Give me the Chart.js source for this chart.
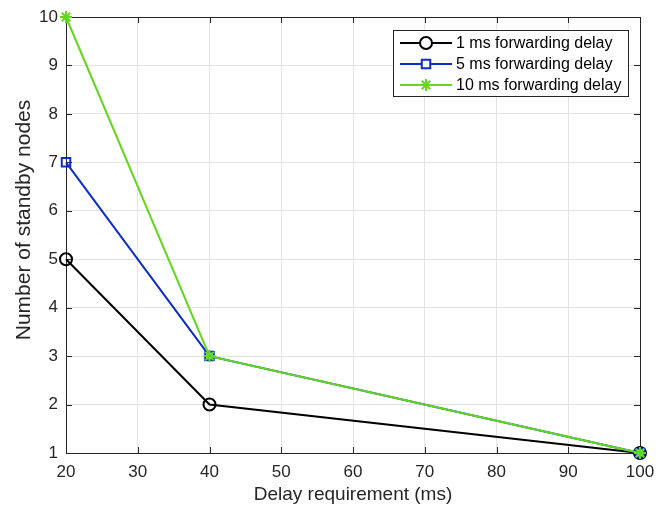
<!DOCTYPE html>
<html>
<head>
<meta charset="utf-8">
<script src="https://cdn.jsdelivr.net/npm/chart.js@4"></script>
<style>
  body { margin: 0; background: #fff; }
  #wrap { width: 656px; height: 508px; }
</style>
</head>
<body>
<div id="wrap"><canvas id="myChart" width="656" height="508"></canvas></div>
<script>
'use strict';

// chart data
let delayReq = [20, 40, 100];
let oneMs = [5, 2, 1];
let fiveMs = [7, 3, 1];
let tenMs = [10, 3, 1];
let seriesNames = ['1 ms forwarding delay', '5 ms forwarding delay', '10 ms forwarding delay'];
let xTicks = [20, 30, 40, 50, 60, 70, 80, 90, 100];
let yTicks = [1, 2, 3, 4, 5, 6, 7, 8, 9, 10];
let yTitle = 'Number of standby nodes';

function toPoints(ys){
  let pts = [];
  for(let i = 0; i < delayReq.length; i++){
    pts.push({x: delayReq[i], y: ys[i]});
  }
  return pts;
}

const axisColor = '#262626';
const fam = 'Liberation Sans, Arial, sans-serif';

// matlab style box, inside ticks, y title and legend
const boxPlugin = {
  id: 'boxPlugin',
  beforeDatasetsDraw(chart){
    let ctx = chart.ctx;
    let a = chart.chartArea;
    let xs = chart.scales.x;
    let ys = chart.scales.y;
    ctx.save();
    ctx.strokeStyle = axisColor;
    ctx.lineWidth = 1;
    ctx.strokeRect(a.left + 0.5, a.top + 0.5, a.right - a.left, a.bottom - a.top);
    ctx.beginPath();
    xTicks.forEach(function(t){
      let px = Math.round(xs.getPixelForValue(t)) + 0.5;
      ctx.moveTo(px, a.bottom); ctx.lineTo(px, a.bottom - 6);
      ctx.moveTo(px, a.top); ctx.lineTo(px, a.top + 6);
    });
    yTicks.forEach(function(t){
      let py = Math.round(ys.getPixelForValue(t)) + 0.5;
      ctx.moveTo(a.left, py); ctx.lineTo(a.left + 6, py);
      ctx.moveTo(a.right, py); ctx.lineTo(a.right - 6, py);
    });
    ctx.stroke();

    // y axis title
    ctx.translate(24, 220);
    ctx.rotate(-Math.PI / 2);
    ctx.font = '21px ' + fam;
    ctx.fillStyle = axisColor;
    ctx.textAlign = 'center';
    ctx.textBaseline = 'middle';
    ctx.fillText(yTitle, 0, 0);
    ctx.restore();
  },
  afterDatasetsDraw(chart){
    let ctx = chart.ctx;
    // legend
    let lx = 393, ly = 30, lw = 235, lh = 66;
    ctx.save();
    ctx.fillStyle = '#fff';
    ctx.fillRect(lx, ly, lw, lh);
    ctx.strokeStyle = axisColor;
    ctx.lineWidth = 1;
    ctx.strokeRect(lx + 0.5, ly + 0.5, lw, lh);
    let rows = [43, 64, 85];
    ctx.font = '16px ' + fam;
    ctx.textBaseline = 'middle';
    chart.data.datasets.forEach(function(ds, i){
      let y = rows[i];
      ctx.strokeStyle = ds.borderColor;
      ctx.lineWidth = 2;
      ctx.beginPath();
      ctx.moveTo(lx + 7, y); ctx.lineTo(lx + 59, y);
      ctx.stroke();
      ctx.fillStyle = '#fff';
      Chart.helpers.drawPoint(ctx, {pointStyle: ds.pointStyle, radius: ds.pointRadius, borderWidth: 2}, lx + 33, y);
      ctx.fillStyle = '#000';
      ctx.fillText(ds.label, lx + 63, y + 1);
    });
    ctx.restore();
  }
};

const ctx = document.getElementById('myChart');

new Chart(ctx, {
  type: 'line',
  data: {
    datasets: [
      {
        label: seriesNames[0],
        data: toPoints(oneMs),
        borderColor: '#000000',
        backgroundColor: 'rgba(0,0,0,0)',
        borderWidth: 2,
        pointStyle: 'circle',
        pointRadius: 6,
        pointBorderWidth: 2,
        clip: false,
        order: 2
      },
      {
        label: seriesNames[1],
        data: toPoints(fiveMs),
        borderColor: '#0a2ccc',
        backgroundColor: 'rgba(0,0,0,0)',
        borderWidth: 2,
        pointStyle: 'rect',
        pointRadius: 6,
        pointBorderWidth: 2,
        clip: false,
        order: 1
      },
      {
        label: seriesNames[2],
        data: toPoints(tenMs),
        borderColor: '#62d81c',
        backgroundColor: 'rgba(0,0,0,0)',
        borderWidth: 2,
        pointStyle: 'star',
        pointRadius: 6,
        pointBorderWidth: 2,
        clip: false,
        order: 0
      }
    ]
  },
  plugins: [boxPlugin],
  options: {
    responsive: false,
    animation: false,
    layout: {padding: {top: 17, right: 16, left: 0, bottom: 0}},
    plugins: {
      legend: {display: false},
      tooltip: {enabled: false}
    },
    scales: {
      x: {
        type: 'linear',
        min: 20,
        max: 100,
        afterBuildTicks(scale){ scale.ticks = xTicks.map(v => ({value: v})); },
        afterFit(scale){
          scale.height = 55;
          scale.paddingLeft = 0;
          scale.paddingRight = 0;
        },
        ticks: {color: axisColor, font: {family: fam, size: 17}, padding: 9, maxRotation: 0},
        grid: {color: '#e3e3e3', drawTicks: false},
        border: {display: false},
        title: {display: true, text: 'Delay requirement (ms)', color: axisColor, font: {family: fam, size: 19}, padding: {top: 0, bottom: 2}}
      },
      y: {
        min: 1,
        max: 10,
        afterBuildTicks(scale){ scale.ticks = yTicks.map(v => ({value: v})); },
        afterFit(scale){
          scale.width = 66;
          scale.paddingTop = 0;
          scale.paddingBottom = 0;
        },
        ticks: {color: axisColor, font: {family: fam, size: 17}, padding: 8},
        grid: {color: '#e3e3e3', drawTicks: false},
        border: {display: false}
      }
    }
  }
});
</script>
</body>
</html>
